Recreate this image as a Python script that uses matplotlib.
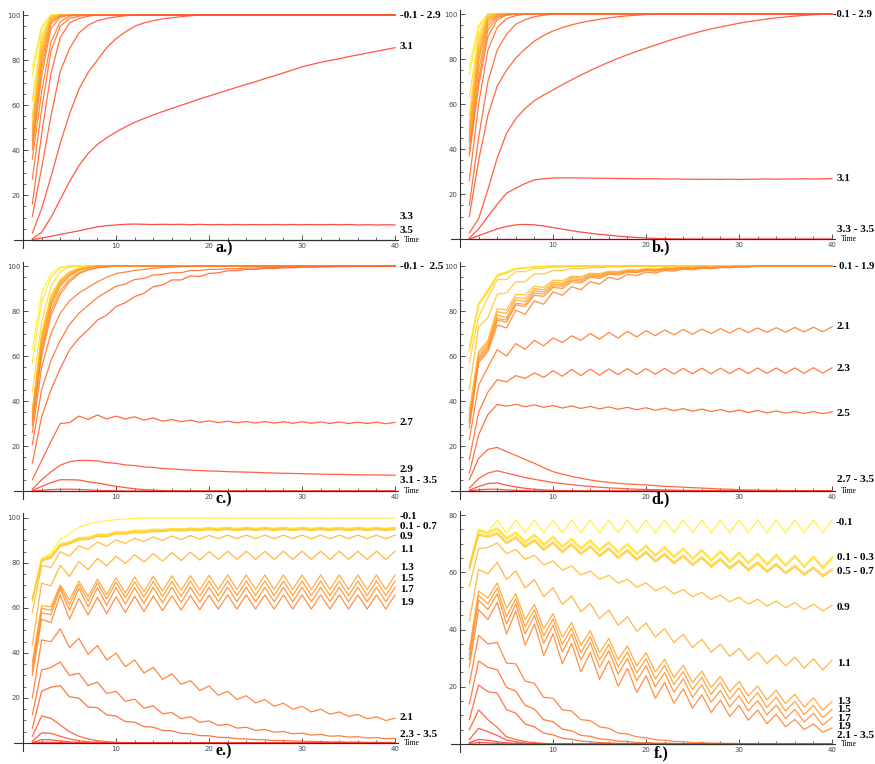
import matplotlib
matplotlib.use("Agg")
import matplotlib.pyplot as plt
from matplotlib.colors import hsv_to_rgb
from matplotlib.ticker import MultipleLocator

# =====================================================
# DATA
# =====================================================

time = list(range(1, 41))

params = [-0.1, 0.1, 0.3, 0.5, 0.7, 0.9, 1.1, 1.3, 1.5, 1.7,
          1.9, 2.1, 2.3, 2.5, 2.7, 2.9, 3.1, 3.3, 3.5]


def pad(vals, fill):
    # curve stays at its last read level for the rest of the run
    return vals + [fill] * (40 - len(vals))


panel_a = [
    pad([77, 95], 100),
    pad([73, 94], 100),
    pad([62, 91], 100),
    pad([55, 89, 99.5], 100),
    pad([51, 87, 99], 100),
    pad([49, 85, 98.5], 100),
    pad([47, 83, 98], 100),
    pad([46, 81, 97.5], 100),
    pad([44, 79, 97, 99.5], 100),
    pad([42, 76, 96, 99.5], 100),
    pad([40, 73, 94, 99], 100),
    pad([36, 66, 88, 97, 99.5], 100),
    pad([27, 58, 84, 95, 98.5, 99.5], 100),
    pad([16, 47, 74, 90, 96.5, 98.5, 99.5], 100),
    pad([10.5, 32, 55, 75, 85, 92, 95.5, 97.5, 98.5, 99.2, 99.7], 100),
    pad([3, 14, 28, 43, 56, 67, 74.5, 80, 85.5, 89.5, 92.5, 95, 96.5, 97.5,
         98.3, 98.8, 99.3, 99.7], 100),
    [0.5, 3.5, 10, 18, 26, 33, 38.5, 42.5, 45.5, 48, 50.3, 52.3, 54, 55.6,
     57.1, 58.5, 59.9, 61.3, 62.7, 64, 65.3, 66.6, 67.9, 69.2, 70.4, 71.7,
     73, 74.3, 75.6, 77, 78, 79, 79.8, 80.6, 81.5, 82.3, 83.1, 83.9, 84.7, 85.5],
    [0.2, 0.9, 1.7, 2.5, 3.3, 4.1, 5, 5.9, 6.4, 6.7, 7, 7.1, 7, 6.9, 7, 6.9,
     7, 6.8, 7, 6.8, 6.9, 6.8, 6.9, 6.8, 6.9, 6.8, 6.9, 6.8, 6.9, 6.8, 6.9,
     6.8, 6.9, 6.8, 6.9, 6.7, 6.8, 6.7, 6.8, 6.7],
    pad([0], 0),
]

panel_b = [
    pad([77, 95], 100),
    pad([73, 94], 100),
    pad([63, 91], 100),
    pad([55, 89, 99.5], 100),
    pad([51, 87, 99], 100),
    pad([49, 85, 98.5], 100),
    pad([47, 83, 98], 100),
    pad([45, 81, 97.5, 99.5], 100),
    pad([43, 79, 96.5, 99.3], 100),
    pad([40, 75, 95, 99], 100),
    pad([38, 71, 93, 98.5, 99.6], 100),
    pad([37, 68, 90, 97.5, 99.5], 100),
    pad([26, 60, 84, 94, 98, 99.3], 100),
    pad([15, 45, 70, 84, 91, 95.5, 97.5, 98.8, 99.5], 100),
    pad([10, 35, 55, 68, 75, 80.5, 84.5, 88, 90.5, 92.5, 94, 95.2, 96.2, 97,
         97.7, 98.3, 98.8, 99.2, 99.5, 99.8], 100),
    [2.7, 9, 22, 36, 47, 53.5, 58, 61.5, 64, 66.3, 68.6, 70.8, 72.9, 74.9,
     76.8, 78.6, 80.3, 81.9, 83.4, 84.8, 86.2, 87.6, 88.9, 90.1, 91.3, 92.4,
     93.4, 94.3, 95.1, 95.9, 96.6, 97.2, 97.8, 98.3, 98.7, 99.1, 99.4, 99.7,
     99.9, 100],
    [0.5, 4.5, 10, 15.5, 20.4, 22.6, 24.7, 26.3, 26.8, 27.1, 27.2, 27.2, 27.1,
     27.1, 27, 27, 26.9, 26.9, 26.8, 26.8, 26.8, 26.7, 26.7, 26.6, 26.6, 26.5,
     26.6, 26.5, 26.6, 26.5, 26.6, 26.6, 26.7, 26.6, 26.7, 26.7, 26.8, 26.7,
     26.8, 26.9],
    pad([0, 1.5, 3, 4.5, 5.6, 6.3, 6.5, 6.3, 5.8, 5.1, 4.4, 3.7, 3.1, 2.6,
         2.1, 1.7, 1.3, 1, 0.7, 0.5, 0.3, 0.2, 0.1], 0),
    pad([0], 0),
]

panel_c = [
    pad([63, 88, 96.7, 99.5], 100),
    pad([57, 84, 95, 99], 100),
    pad([44, 75, 91, 97.5, 99.5], 100),
    pad([36, 70, 87, 94, 97.5, 99, 99.7], 100),
    pad([35.5, 69, 86, 93.5, 97, 98.8, 99.6], 100),
    pad([35, 68, 85, 93, 96.8, 98.6, 99.5], 100),
    pad([34, 67, 84, 92.5, 96.5, 98.4, 99.4], 100),
    pad([33, 66, 83, 92, 96, 98.2, 99.3], 100),
    pad([32, 64, 82, 91, 95.5, 98, 99.2], 100),
    pad([31, 62, 80, 89, 94, 97, 98.5, 99.3, 99.7], 100),
    pad([29, 60, 78, 87.5, 93, 96.5, 98.2, 99.2, 99.6], 100),
    pad([26, 55, 70, 79, 84.5, 88, 90.5, 93, 95, 96.7, 97.3, 98, 98.5, 99,
         99.3, 99.5, 99.7, 99.8], 100),
    [20.6, 45, 58, 67, 74, 79, 82.5, 86, 88.5, 91, 92, 94, 94.5, 96, 96.3, 97,
     97, 98, 98, 98.5, 98.5, 98.8, 98.8, 99.1, 99.1, 99.3, 99.3, 99.5, 99.5,
     99.6, 99.6, 99.7, 99.7, 99.8, 99.8, 99.9, 99.9, 100, 100, 100],
    [12.4, 33, 45, 54.5, 62.7, 67.9, 71.6, 76, 78.2, 82, 83.7, 86.4, 87.9,
     90.8, 91.6, 93.8, 93.8, 95.6, 95.3, 96.7, 97, 97.9, 97.9, 98.5, 98.5,
     98.9, 98.9, 99.2, 99.2, 99.5, 99.5, 99.7, 99.7, 99.8, 99.8, 99.9, 99.9,
     100, 100, 100],
    [5, 13.5, 22, 30, 30.4, 33.3, 31.8, 33.8, 32, 33.3, 32, 33, 31.5, 32.5,
     31, 31.8, 30.8, 31.5, 30.5, 31.2, 30.4, 31, 30.3, 30.9, 30.2, 30.9, 30.2,
     30.8, 30.1, 30.8, 30.1, 30.7, 30, 30.7, 30, 30.6, 30, 30.6, 29.9, 30.5],
    [0.8, 5, 8.5, 11.5, 13, 13.6, 13.6, 13.4, 12.6, 12.3, 11.6, 11.3, 10.7,
     10.5, 10, 9.8, 9.5, 9.3, 9.1, 8.9, 8.8, 8.6, 8.5, 8.4, 8.3, 8.1, 8, 7.9,
     7.8, 7.7, 7.6, 7.5, 7.4, 7.4, 7.3, 7.2, 7.2, 7.1, 7.1, 7],
    pad([0.3, 2, 3.7, 5, 5, 4.9, 4.1, 3.6, 2.8, 2.1, 1.5, 1, 0.6, 0.4, 0.2,
         0.1], 0),
    pad([0, 0.3, 0.6, 0.8, 0.8, 0.7, 0.5, 0.3, 0.2, 0.1], 0),
    pad([0], 0),
]

panel_d = [
    pad([64, 83.5, 89.5, 96.2, 97.5, 99, 99.3, 99.7, 99.8], 100),
    pad([63, 83, 89, 95.8, 97.2, 98.8, 99.2, 99.6, 99.8], 100),
    pad([62, 82.5, 88.5, 95.4, 96.8, 98.6, 99, 99.5, 99.7], 100),
    pad([57, 77.5, 86, 94, 94, 97.5, 97.5, 99, 99, 99.5, 99.5, 99.8], 100),
    pad([45, 73, 77, 87.5, 88, 93, 93, 96.5, 96.5, 98, 98, 98.8, 98.8, 99.3,
         99.3, 99.6, 99.6, 99.8, 99.8], 100),
    pad([36, 62, 67, 81, 80.5, 87.4, 87.2, 91, 90.5, 93.7, 93.5, 95.5, 95.3,
         96.8, 96.6, 97.7, 97.5, 98.3, 98.2, 98.8, 98.7, 99.2, 99.1, 99.5,
         99.4, 99.7, 99.6, 99.8, 99.8, 99.9, 99.9], 100),
    pad([34, 61, 66, 79.7, 79, 86, 85.5, 90, 89.5, 92.8, 92.5, 95, 94.7, 96.4,
         96.2, 97.4, 97.2, 98.1, 98, 98.6, 98.5, 99, 98.9, 99.3, 99.3, 99.6,
         99.5, 99.8, 99.7, 99.9, 99.9], 100),
    pad([32, 60, 65, 78.2, 77, 85, 84.2, 89, 88.5, 92, 91.7, 94.3, 94, 96,
         95.7, 97.1, 96.9, 97.9, 97.7, 98.4, 98.3, 98.9, 98.8, 99.2, 99.1,
         99.5, 99.4, 99.7, 99.6, 99.8, 99.8], 100),
    pad([31, 59, 64, 76.7, 76, 83.4, 83, 88, 87.5, 91.2, 91, 93.7, 93.3, 95.5,
         95.2, 96.8, 96.5, 97.6, 97.4, 98.2, 98, 98.7, 98.6, 99.1, 99, 99.4,
         99.3, 99.6, 99.6, 99.8, 99.8], 100),
    pad([30, 58, 63, 76, 75, 82.7, 82, 87, 86.5, 90.5, 90, 93, 92.5, 95, 94.5,
         96.4, 96, 97.3, 97, 98, 97.7, 98.5, 98.3, 99, 98.8, 99.3, 99.2, 99.5,
         99.5, 99.7, 99.7], 100),
    pad([28, 57, 62, 73.8, 72.5, 80.4, 78.5, 84.5, 83, 88.5, 87, 90.8, 89.5,
         93, 92, 95, 94, 96.3, 95.7, 97.3, 96.9, 98, 97.7, 98.6, 98.3, 99,
         98.8, 99.3, 99.2, 99.6, 99.5], 100),
    [23, 47, 55, 62.8, 60, 65.5, 63, 67, 64.5, 68, 66, 69, 67, 70, 67.5, 70.5,
     68, 71, 68.5, 71.3, 69, 71.6, 69.4, 71.8, 69.7, 72, 70, 72.2, 70.2, 72.4,
     70.4, 72.5, 70.5, 72.6, 70.6, 72.7, 70.7, 72.8, 70.8, 73],
    [14, 35, 44, 49.5, 48.5, 51.3, 50, 52.5, 50.5, 53.5, 51, 54, 51.3, 54.2,
     51.5, 54.3, 51.7, 54.4, 51.8, 54.4, 51.9, 54.5, 52, 54.5, 52.1, 54.6,
     52.1, 54.6, 52.2, 54.6, 52.2, 54.7, 52.3, 54.7, 52.3, 54.7, 52.3, 54.8,
     52.4, 54.8],
    [8, 25, 34, 38.5, 37.7, 38.5, 37.5, 38.3, 37.2, 38, 36.9, 37.8, 36.7, 37.6,
     36.5, 37.4, 36.3, 37.2, 36.1, 37, 35.9, 36.8, 35.7, 36.6, 35.5, 36.4,
     35.3, 36.2, 35.1, 36, 34.9, 35.8, 34.7, 35.6, 34.6, 35.4, 34.5, 35.3,
     34.4, 35.2],
    [5, 14.5, 18.5, 19.4, 17.5, 15.8, 14, 12.3, 10.4, 8.6, 7.5, 6.5, 5.7, 4.9,
     4.3, 3.8, 3.4, 3.1, 2.9, 2.7, 2.4, 2.1, 1.9, 1.7, 1.5, 1.3, 1.1, 0.9,
     0.8, 0.6, 0.5, 0.4, 0.3, 0.3, 0.2, 0.2, 0.1, 0.1, 0.1, 0.1],
    pad([1.3, 5.5, 8, 9, 8, 7, 6, 5.2, 4.5, 3.8, 3.3, 2.8, 2.4, 2, 1.7, 1.4,
         1.2, 1, 0.8, 0.7, 0.6, 0.5, 0.4, 0.3, 0.3, 0.2, 0.2, 0.1, 0.1], 0),
    pad([0.3, 2, 3.3, 3.6, 2.6, 1.8, 1.2, 0.8, 0.5, 0.3, 0.2, 0.1], 0),
    pad([0.1, 0.5, 0.8, 0.8, 0.5, 0.3, 0.1], 0),
    pad([0], 0),
]

panel_e = [
    pad([64.5, 82, 84.3, 90.5, 93, 96, 97.3, 98.2, 98.8, 99.3, 99.6, 99.8], 100),
    [64, 81.8, 83.3, 88.5, 89.5, 91.3, 91.5, 92.9, 92.8, 94, 93.9, 94.6, 94.5,
     95.1, 94.9, 95.4, 95.2, 95.6, 95.3, 95.8] + [95.4, 95.9] * 10,
    [63.8, 81.5, 83, 88.2, 89.2, 91, 91.2, 92.6, 92.5, 93.7, 93.6, 94.3, 94.2,
     94.8, 94.6, 95.1, 94.9, 95.3, 95, 95.5] + [95.1, 95.6] * 10,
    [63.5, 81.2, 82.6, 87.8, 88.8, 90.6, 90.8, 92.2, 92.1, 93.3, 93.2, 93.9,
     93.8, 94.4, 94.3, 94.8, 94.6, 95, 94.7, 95.2] + [94.8, 95.3] * 10,
    [63.2, 80.8, 82.2, 87.4, 88.4, 90.2, 90.4, 91.8, 91.7, 92.9, 92.8, 93.5,
     93.4, 94, 93.9, 94.4, 94.2, 94.6, 94.3, 94.8] + [94.4, 94.9] * 10,
    [58, 78.8, 78, 85, 83, 87.7, 86, 89.3, 87.5, 90.3, 88.7, 91, 89.5, 91.6,
     90, 92, 90.4, 92.2, 90.6, 92.3] + [90.8, 92.4] * 10,
    [43.6, 71, 69.8, 79, 74, 80.7, 77, 82, 78.7, 83, 79.8, 83.7, 80.4, 84.2,
     80.8, 84.6, 81.1, 84.8, 81.3, 85] + [81.6, 85.2] * 10,
    [36, 61, 60.5, 70.2, 63.6, 71.9, 65, 72.8, 66, 73.4, 66.7, 73.8, 67.2,
     74.1, 67.5, 74.3, 67.8, 74.4, 68, 74.5] + [68.2, 74.7] * 10,
    [34, 59.8, 59, 69.5, 61.5, 70.5, 63, 71.2, 64, 71.5, 64.5, 71.7, 64.8,
     71.8, 65, 71.9, 65.2, 72, 65.3, 72] + [65.5, 72] * 10,
    [32, 57.8, 57, 68.5, 59, 68.8, 60.5, 69, 61.3, 69.1, 61.8, 69.1, 62.1,
     69.2, 62.3, 69.2, 62.5, 69.2, 62.6, 69.2] + [62.8, 69.2] * 10,
    [30, 55, 53.5, 65.8, 55, 64.3, 56.9, 64.7, 57.5, 65, 58, 65.2, 58.5, 65.3,
     58.8, 65.4, 59, 65.5, 59.2, 65.6] + [59.5, 65.8] * 10,
    [20, 45.8, 45, 50.7, 42.4, 46.5, 39.4, 43.3, 36.9, 39.9, 33.9, 36.9, 31.1,
     33.6, 28.3, 30.7, 26.1, 27.7, 23.3, 25.3, 21.2, 23, 19.3, 21, 17.8, 19.3,
     16.3, 17.7, 15, 16.3, 13.8, 15, 12.8, 13.8, 11.8, 12.7, 10.8, 11.6, 10, 11],
    [12.4, 32.5, 33.5, 36, 30, 31, 25.5, 27, 22, 23, 18.5, 19.5, 15.5, 16.5,
     13, 13.5, 10.8, 11.7, 9.2, 9.8, 7.8, 8.3, 6.6, 7, 5.6, 6, 4.8, 5.1, 4.1,
     4.4, 3.5, 3.8, 3, 3.2, 2.6, 2.8, 2.2, 2.4, 1.9, 2.1],
    [6.5, 23, 24.8, 25.5, 20.5, 20, 16, 15.7, 12.5, 12, 9.5, 9.2, 7.3, 7, 5.6,
     5.4, 4.3, 4.1, 3.3, 3.2, 2.5, 2.4, 1.9, 1.8, 1.5, 1.4, 1.1, 1.1, 0.9,
     0.8, 0.7, 0.6, 0.5, 0.5, 0.4, 0.4, 0.3, 0.3, 0.2, 0.2],
    pad([3, 12, 11, 8, 5, 3, 1.8, 1, 0.6, 0.3, 0.2, 0.1], 0),
    pad([0.8, 4.5, 4.3, 3, 1.8, 1, 0.5, 0.3, 0.1], 0),
    pad([0.2, 1.5, 1.4, 0.9, 0.5, 0.2], 0),
    pad([0, 0.3, 0.3, 0.2], 0),
    pad([0], 0),
]

panel_f = [
    [62, 75, 74] + [78.3, 73.8] * 18 + [78.3],
    [62.5, 75, 74, 75.7, 72.2, 74.2, 70.9, 73.4, 70, 72.7, 69.3, 72, 68.6,
     71.4, 68, 70.8, 67.4, 70.2, 66.8, 69.6, 66.2, 69.1, 65.7, 68.6, 65.1,
     68.1, 64.6, 67.6, 64.1, 67.2, 63.6, 66.8, 63.1, 66.4, 62.7, 66, 62.3,
     65.7, 61.9, 65.4],
    [62, 74.5, 73.5, 75.1, 71.6, 73.6, 70.3, 72.8, 69.4, 72.1, 68.7, 71.4, 68,
     70.8, 67.4, 70.2, 66.8, 69.6, 66.2, 69, 65.6, 68.5, 65.1, 68, 64.5, 67.5,
     64, 67, 63.5, 66.6, 63, 66.2, 62.5, 65.8, 62.1, 65.4, 61.7, 65.1, 61.3,
     64.8],
    [61.5, 73.5, 72.8, 74, 70.6, 72.5, 69.3, 71.6, 68.3, 70.8, 67.5, 70.1,
     66.8, 69.4, 66.1, 68.7, 65.5, 68, 64.8, 67.4, 64.2, 66.7, 63.6, 66.1, 63,
     65.5, 62.4, 64.9, 61.8, 64.3, 61.2, 63.7, 60.6, 63.1, 60.1, 62.5, 59.6,
     61.9, 59.1, 61.3],
    [61, 73, 72.3, 73.4, 70, 71.9, 68.7, 71, 67.7, 70.2, 66.9, 69.5, 66.2,
     68.8, 65.5, 68.1, 64.9, 67.4, 64.2, 66.8, 63.6, 66.1, 63, 65.5, 62.4,
     64.9, 61.8, 64.3, 61.2, 63.7, 60.6, 63.1, 60, 62.5, 59.5, 61.9, 59, 61.3,
     58.5, 60.7],
    [55, 68.3, 68.7, 70.3, 66.5, 68, 64.6, 66, 62.6, 64, 60.8, 62.2, 59.1,
     60.5, 57.6, 59, 56.2, 57.6, 54.8, 56.3, 53.6, 55.1, 52.5, 54, 51.5, 53,
     50.5, 52.1, 49.7, 51.3, 48.9, 50.6, 48.2, 50, 47.6, 49.4, 47, 48.9, 46.5,
     48.5],
    [43, 61, 59.5, 63.5, 57.5, 60.5, 54.5, 57.5, 51.5, 54.6, 48.8, 51.8, 46.2,
     49.2, 43.8, 46.8, 41.5, 44.5, 39.4, 42.3, 37.4, 40.3, 35.5, 38.4, 33.7,
     36.6, 32.1, 34.9, 30.6, 33.4, 29.3, 32.1, 28.2, 31.1, 27.3, 30.4, 26.5,
     29.8, 25.9, 29.3],
    [33, 53.5, 51, 56.3, 47.5, 52.5, 43.5, 48.8, 40.3, 45.6, 37.3, 42.5, 34.5,
     39.6, 31.9, 36.9, 29.5, 34.3, 27.3, 31.9, 25.2, 29.6, 23.3, 27.5, 21.5,
     25.5, 19.8, 23.6, 18.2, 21.9, 16.8, 20.3, 15.4, 18.8, 14.1, 17.4, 12.9,
     16.1, 11.8, 14.8],
    [31, 52, 49, 54.5, 44.5, 50.8, 41, 47, 37.8, 43.7, 34.8, 40.5, 32, 37.6,
     29.4, 34.8, 27, 32.2, 24.8, 29.8, 22.7, 27.5, 20.8, 25.3, 19, 23.3, 17.3,
     21.4, 15.7, 19.6, 14.2, 17.9, 12.8, 16.4, 11.5, 14.9, 10.3, 13.5, 9.2,
     12.1],
    [29.5, 50.3, 47, 52.5, 42, 49, 38.5, 45, 35.2, 41.6, 32.2, 38.4, 29.4,
     35.4, 26.8, 32.6, 24.4, 29.9, 22.1, 27.4, 20, 25, 18.1, 22.8, 16.3, 20.7,
     14.6, 18.7, 13, 16.9, 11.6, 15.2, 10.2, 13.6, 8.9, 12.1, 7.7, 10.7, 6.6,
     9.3],
    [27, 47, 43.5, 49.5, 38.5, 46.5, 34.5, 42, 31, 38.5, 28, 35.2, 25.2, 32,
     22.6, 29.1, 20.2, 26.4, 18, 23.9, 16, 21.5, 14.2, 19.3, 12.5, 17.2, 11,
     15.3, 9.6, 13.5, 8.3, 11.9, 7.1, 10.4, 6, 8.6, 5, 7, 4.1, 5.6],
    pad([21, 38, 35, 35.5, 28.3, 28, 22, 21.2, 16.3, 16, 12, 11.5, 8.5, 8.2,
         6, 5.5, 3.8, 3.5, 2.5, 2.2, 1.5, 1.3, 0.9, 0.8, 0.5, 0.5, 0.3, 0.3,
         0.2, 0.2, 0.1, 0.1], 0),
    pad([14, 29, 26.8, 26, 19.8, 18.5, 13.5, 12.2, 8.5, 7.8, 5.2, 4.6, 3, 2.7,
         1.8, 1.5, 1, 0.9, 0.5, 0.5, 0.3, 0.3, 0.2, 0.1], 0),
    pad([8.5, 20.6, 18.3, 17.8, 12, 10.8, 7, 6, 3.8, 3.2, 2, 1.6, 1, 0.8, 0.5,
         0.4, 0.2, 0.2, 0.1], 0),
    pad([5, 11.9, 8.5, 5.8, 2.5, 1.6, 0.8, 0.5, 0.2, 0.1], 0),
    pad([1.5, 5.5, 4.3, 3, 1.4, 0.8, 0.3, 0.2], 0),
    pad([0.5, 1.6, 1.3, 0.8, 0.4, 0.2], 0),
    pad([0.2, 0.5, 0.4, 0.2], 0),
    pad([0], 0),
]

# right-hand labels: (text, height)
labels_a = [("-0.1 - 2.9", 100), ("3.1", 86), ("3.3", 10.5), ("3.5", 4.3)]
labels_b = [("-0.1 - 2.9", 100), ("3.1", 27), ("3.3 - 3.5", 4.3)]
labels_c = [("-0.1 -  2.5", 100), ("2.7", 30.4), ("2.9", 9.6), ("3.1 - 3.5", 4.8)]
labels_d = [("- 0.1 - 1.9", 100), ("2.1", 73), ("2.3", 54.5), ("2.5", 34.5),
            ("2.7 - 3.5", 5.2)]
labels_e = [("-0.1", 100.6), ("0.1 - 0.7", 96), ("0.9", 91.7), ("1.1", 85.8),
            ("1.3", 77.9), ("1.5", 73), ("1.7", 68), ("1.9", 62.4),
            ("2.1", 11.4), ("2.3 - 3.5", 3.6)]
labels_f = [("-0.1", 77.6), ("0.1 - 0.3", 65.2), ("0.5 - 0.7", 60.2),
            ("0.9", 47.7), ("1.1", 28.2), ("1.3", 14.9), ("1.5", 12.1),
            ("1.7", 9), ("1.9", 6), ("2.1 - 3.5", 2.8)]

# =====================================================
# FIGURE
# =====================================================

fig = plt.figure(figsize=(8.75, 7.64), dpi=100)

W = 0.439
panels = [
    ("a.)", panel_a, labels_a, [0.0157, 0.6755, W, 0.3107], 100, 40.5),
    ("b.)", panel_b, labels_b, [0.5151, 0.6768, W, 0.3107], 100, 40.1),
    ("c.)", panel_c, labels_c, [0.0157, 0.3470, W, 0.3107], 100, 40.5),
    ("d.)", panel_d, labels_d, [0.5151, 0.3470, W, 0.3107], 100, 40.1),
    ("e.)", panel_e, labels_e, [0.0157, 0.0172, W, 0.3107], 100, 40.5),
    ("f.)", panel_f, labels_f, [0.5151, 0.0157, W, 0.3160], 80, 40.4),
]

n = len(params)
colors = [hsv_to_rgb((0.155 * (1 - i / (n - 1)), 0.82, 1.0)) for i in range(n)]

serif = "Liberation Serif"

for name, curves, labels, pos, top, lx in panels:
    ax = fig.add_axes(pos)
    for i, vals in enumerate(curves):
        ax.plot(time[:len(vals)], vals, color=colors[i], lw=0.9, alpha=0.9)

    s = top / 100.0
    ax.set_xlim(-1, 40.3)
    ax.set_ylim(-3.5 * s, 102 * s)

    ax.spines['left'].set_position(('data', 0))
    ax.spines['bottom'].set_position(('data', 0))
    ax.spines['top'].set_visible(False)
    ax.spines['right'].set_visible(False)
    for sp in ('left', 'bottom'):
        ax.spines[sp].set_linewidth(0.8)
        ax.spines[sp].set_color('#333333')

    ax.set_xticks([10, 20, 30, 40])
    ax.set_yticks(list(range(20, top + 1, 20)))
    ax.xaxis.set_minor_locator(MultipleLocator(2))
    ax.yaxis.set_minor_locator(MultipleLocator(5))
    ax.tick_params(which='major', direction='in', length=3.5, width=0.6,
                   labelsize=5, pad=2, color='#333333', labelcolor='#3a4a5a')
    ax.tick_params(which='minor', direction='in', length=2, width=0.5,
                   color='#333333')
    ax.patch.set_alpha(0)

    for k, (txt, y) in enumerate(labels):
        size = 7.6 if (k == 0 and lx < 40.3) else 8
        ax.text(lx if k == 0 else 40.5, y, txt, fontsize=size,
                fontweight='bold', family=serif, ha='left', va='center',
                clip_on=False)

    ax.text(40.9, 0, "Time", fontsize=5.5, family=serif, ha='left',
            va='center', clip_on=False)
    ax.text(21.6, -3.9 * s, name, fontsize=11.5, fontweight='bold',
            family=serif, ha='center', va='center', clip_on=False)

fig.savefig("out.png", dpi=100)
